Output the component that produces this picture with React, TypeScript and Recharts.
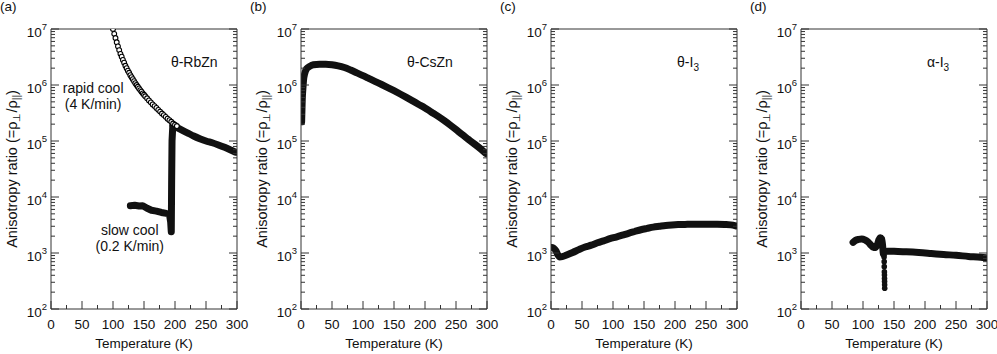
import React from 'react';
import { ComposedChart, Line, Scatter, XAxis, YAxis, ReferenceDot } from 'recharts';

const FONT = '"Liberation Sans", Arial, Helvetica, sans-serif';
const AX = '#333';
const INK = '#111';

// ---- axis ticks ----
const panelTags = ['(a)', '(b)', '(c)', '(d)'];
const temperatureTicks = [0, 25, 50, 75, 100, 125, 150, 175, 200, 225, 250, 275, 300];
const decadeValues = [1e2, 1e3, 1e4, 1e5, 1e6];
const minorMultipliers = [1, 2, 3, 4, 5, 6, 7, 8, 9];
const ratioTicks = [...decadeValues.flatMap((d) => minorMultipliers.map((m) => m * d)), 1e7];

// ---- data: [Temperature (K), anisotropy ratio] ----
const rbznRapidOpen = [
  [100, 1.0e7], [102, 8.2e6], [104, 6.9e6], [106, 5.8e6], [108, 4.9e6], [110, 4.2e6],
  [112, 3.6e6], [114, 3.2e6], [116, 2.8e6], [118, 2.5e6], [120, 2.2e6], [122, 2.0e6],
  [124, 1.8e6], [126, 1.65e6], [128, 1.5e6], [130, 1.38e6], [132, 1.27e6], [134, 1.17e6],
  [136, 1.08e6], [138, 1.0e6], [140, 9.3e5], [142, 8.7e5], [144, 8.1e5], [146, 7.6e5],
  [148, 7.1e5], [150, 6.7e5], [152, 6.3e5], [155, 5.8e5], [158, 5.3e5], [161, 4.9e5],
  [164, 4.5e5], [167, 4.2e5], [170, 3.9e5], [173, 3.6e5], [176, 3.35e5], [179, 3.1e5],
  [182, 2.9e5], [185, 2.7e5], [188, 2.5e5], [191, 2.35e5], [194, 2.2e5], [197, 2.05e5],
  [200, 1.95e5], [203, 1.85e5],
];
const rbznHighT = [
  [197, 1.9e5], [205, 1.7e5], [212, 1.55e5], [220, 1.4e5], [230, 1.23e5], [240, 1.1e5],
  [250, 1.0e5], [260, 9.3e4], [270, 8.5e4], [280, 7.7e4], [290, 6.9e4], [298, 6.3e4],
];
const rbznSlow = [
  [128, 7.0e3], [135, 7.1e3], [142, 6.9e3], [148, 7.0e3], [155, 6.3e3], [162, 5.8e3],
  [170, 5.6e3], [178, 5.3e3], [186, 5.1e3], [191, 5.0e3], [193, 3.6e3], [194, 2.4e3],
  [194.6, 2.0e4], [195.2, 1.0e5], [196.5, 1.9e5],
];
const csznData = [
  [1, 2.2e5], [1.5, 3.5e5], [2, 5.5e5], [3, 8.5e5], [4, 1.2e6], [6, 1.6e6], [9, 1.95e6],
  [14, 2.15e6], [20, 2.3e6], [30, 2.35e6], [40, 2.35e6], [50, 2.3e6], [60, 2.2e6],
  [70, 2.05e6], [80, 1.85e6], [90, 1.65e6], [100, 1.47e6], [110, 1.3e6], [120, 1.15e6],
  [130, 1.02e6], [140, 9.0e5], [150, 7.9e5], [160, 6.9e5], [170, 6.0e5], [180, 5.2e5],
  [190, 4.5e5], [200, 3.9e5], [210, 3.3e5], [220, 2.8e5], [230, 2.35e5], [240, 1.95e5],
  [250, 1.6e5], [260, 1.3e5], [270, 1.07e5], [280, 8.8e4], [290, 7.2e4], [298, 6.0e4],
];
const thetaI3Data = [
  [2, 1.25e3], [5, 1.2e3], [8, 1.1e3], [11, 9.3e2], [14, 8.5e2], [18, 8.6e2], [25, 9.2e2],
  [35, 1.02e3], [45, 1.15e3], [55, 1.28e3], [65, 1.38e3], [75, 1.52e3], [85, 1.65e3],
  [95, 1.8e3], [105, 1.93e3], [115, 2.08e3], [125, 2.25e3], [135, 2.42e3], [145, 2.6e3],
  [155, 2.75e3], [165, 2.9e3], [175, 3.0e3], [185, 3.1e3], [195, 3.17e3], [205, 3.22e3],
  [220, 3.25e3], [235, 3.27e3], [250, 3.27e3], [265, 3.25e3], [280, 3.22e3], [290, 3.18e3],
  [298, 3.05e3],
];
const alphaI3Data = [
  [84, 1.55e3], [88, 1.68e3], [93, 1.75e3], [98, 1.78e3], [103, 1.72e3], [108, 1.58e3],
  [113, 1.38e3], [117, 1.25e3], [120, 1.25e3], [123, 1.4e3], [126, 1.75e3], [128, 1.88e3],
  [130, 1.8e3], [131.5, 1.4e3], [133, 9.5e2], [135, 1.05e3], [140, 1.08e3], [150, 1.07e3],
  [170, 1.05e3], [190, 1.02e3], [210, 9.8e2], [230, 9.4e2], [250, 9.1e2], [270, 8.7e2],
  [290, 8.4e2], [298, 8.2e2],
];
const alphaI3Dip = [
  [134, 8.5e2], [134.2, 7.0e2], [134.3, 5.7e2], [134.5, 4.6e2], [134.6, 4.05e2],
  [134.7, 3.5e2], [134.8, 3.1e2], [134.9, 2.7e2], [135, 2.35e2],
];

type Pt = { T: number; v: number };
const toPts = (arr: number[][]): Pt[] => arr.map(([T, v]) => ({ T, v }));

const isDecade = (v: number) => Math.abs(Math.log10(v) - Math.round(Math.log10(v))) < 1e-9;

// ---- tick renderers (ticks drawn inward) ----
const LeftTick = (p: any) => {
  const { x, y, payload } = p;
  const v = payload.value;
  const major = isDecade(v);
  return (
    <g>
      <line x1={x} x2={x + (major ? 8 : 4)} y1={y} y2={y} stroke={AX} strokeWidth={1} />
      {major && (
        <text x={x - 4} y={y + 8} textAnchor="end" fontFamily={FONT} fontSize={13.5} fill={INK}>
          10<tspan fontSize={9.5} dy={-7}>{Math.round(Math.log10(v))}</tspan>
        </text>
      )}
    </g>
  );
};
const RightTick = (p: any) => {
  const { x, y, payload } = p;
  const major = isDecade(payload.value);
  return <line x1={x - (major ? 8 : 4)} x2={x} y1={y} y2={y} stroke={AX} strokeWidth={1} />;
};
const BottomTick = (p: any) => {
  const { x, y, payload } = p;
  const major = payload.value % 50 === 0;
  return (
    <g>
      <line x1={x} x2={x} y1={y} y2={y - (major ? 8 : 4)} stroke={AX} strokeWidth={1} />
      {major && (
        <text x={x} y={y + 20} textAnchor="middle" fontFamily={FONT} fontSize={13.5} fill={INK}>
          {payload.value}
        </text>
      )}
    </g>
  );
};
const TopTick = (p: any) => {
  const { x, y, payload } = p;
  const major = payload.value % 50 === 0;
  return <line x1={x} x2={x} y1={y} y2={y + (major ? 8 : 4)} stroke={AX} strokeWidth={1} />;
};

const xTitle = (p: any) => {
  const vb = p.viewBox;
  return (
    <text x={vb.x + vb.width / 2} y={vb.y + 39} textAnchor="middle" fontFamily={FONT} fontSize={13.5} fill={INK}>
      Temperature (K)
    </text>
  );
};
const yTitle = (p: any) => {
  const vb = p.viewBox;
  const cx = 17;
  const cy = vb.y + vb.height / 2;
  return (
    <text x={cx} y={cy} transform={`rotate(-90 ${cx} ${cy})`} textAnchor="middle" fontFamily={FONT} fontSize={14.5} fill={INK}>
      <tspan>Anisotropy ratio (=ρ</tspan>
      <tspan fontSize={10} dy={3}>⊥</tspan>
      <tspan dy={-3}>/ρ</tspan>
      <tspan fontSize={10} dy={3}>||</tspan>
      <tspan dy={-3}>)</tspan>
    </text>
  );
};

const noteLabel = (lines: string[], gap = 16) => (p: any) => {
  const { x, y } = p.viewBox;
  return (
    <text x={x} y={y} textAnchor="middle" fontFamily={FONT} fontSize={14} fill={INK}>
      {lines.map((l, i) => (
        <tspan key={i} x={x} dy={i === 0 ? 5 : gap}>{l}</tspan>
      ))}
    </text>
  );
};
const compoundLabel = (main: string, sub?: string) => (p: any) => {
  const { x, y } = p.viewBox;
  return (
    <text x={x} y={y + 5} textAnchor="middle" fontFamily={FONT} fontSize={14} fill={INK}>
      {main}
      {sub && <tspan fontSize={10} dy={4}>{sub}</tspan>}
    </text>
  );
};

const thickLine = (key: string, data: number[][], type: any = 'monotone') => (
  <Line
    key={key}
    xAxisId="b"
    yAxisId="l"
    data={toPts(data)}
    dataKey="v"
    type={type}
    stroke={INK}
    strokeWidth={7}
    strokeLinecap="round"
    strokeLinejoin="round"
    dot={false}
    activeDot={false}
    isAnimationActive={false}
  />
);

const note = (key: string, T: number, v: number, label: any) => (
  <ReferenceDot key={key} xAxisId="b" yAxisId="l" x={T} y={v} r={0} fill="none" stroke="none" ifOverflow="visible" label={label} />
);

function Panel({ tag, left, width, children }: { tag: string; left: number; width: number; children: React.ReactNode }) {
  return (
    <div style={{ position: 'absolute', left, top: 0, width, height: 354 }}>
      <div style={{ position: 'absolute', left: 0, top: 0, fontFamily: FONT, fontSize: 13.5, lineHeight: '14px', color: INK }}>{tag}</div>
      <ComposedChart width={width} height={354} margin={{ top: 28, right: width - 238, left: 11, bottom: 15 }}>
        <XAxis
          xAxisId="b" dataKey="T" type="number" domain={[0, 300]} allowDataOverflow
          ticks={temperatureTicks} interval={0} tickSize={0} tickMargin={0} tickLine={false}
          tick={BottomTick} height={30} stroke={AX} label={xTitle}
        />
        <XAxis
          xAxisId="t" orientation="top" type="number" domain={[0, 300]} allowDataOverflow
          ticks={temperatureTicks} interval={0} tickSize={0} tickMargin={0} tickLine={false}
          tick={TopTick} height={1} stroke={AX}
        />
        <YAxis
          yAxisId="l" dataKey="v" type="number" scale="log" domain={[100, 1e7]} allowDataOverflow
          ticks={ratioTicks} interval={0} tickSize={0} tickMargin={0} tickLine={false}
          tick={LeftTick} width={40} stroke={AX} label={yTitle}
        />
        <YAxis
          yAxisId="r" orientation="right" type="number" scale="log" domain={[100, 1e7]} allowDataOverflow
          ticks={ratioTicks} interval={0} tickSize={0} tickMargin={0} tickLine={false}
          tick={RightTick} width={1} stroke={AX}
        />
        {children}
      </ComposedChart>
    </div>
  );
}

const openCircle = (p: any) => (
  <circle cx={p.cx} cy={p.cy} r={2.4} fill="#fff" stroke="#000" strokeWidth={1.1} />
);
const filledDot = (p: any) => <circle cx={p.cx} cy={p.cy} r={2.8} fill={INK} />;

export default function App() {
  return (
    <div style={{ position: 'absolute', left: 0, top: 0, width: 997, height: 354, background: '#fff', overflow: 'hidden' }}>
      <Panel tag={panelTags[0]} left={0} width={250}>
        {thickLine('slow', rbznSlow, 'linear')}
        {thickLine('high', rbznHighT)}
        <Scatter xAxisId="b" yAxisId="l" data={toPts(rbznRapidOpen)} shape={openCircle} isAnimationActive={false} />
        {note('n1', 231, 2.6e6, compoundLabel('θ-RbZn'))}
        {note('n2', 68, 8.9e5, noteLabel(['rapid cool', '(4 K/min)']))}
        {note('n3', 127, 2.6e3, noteLabel(['slow cool', '(0.2 K/min)']))}
      </Panel>
      <Panel tag={panelTags[1]} left={250} width={250}>
        {thickLine('cszn', csznData)}
        {note('n4', 208, 2.6e6, compoundLabel('θ-CsZn'))}
      </Panel>
      <Panel tag={panelTags[2]} left={500} width={250}>
        {thickLine('ti3', thetaI3Data)}
        {note('n5', 221, 2.6e6, compoundLabel('θ-I', '3'))}
      </Panel>
      <Panel tag={panelTags[3]} left={750} width={247}>
        {thickLine('ai3', alphaI3Data)}
        <Scatter xAxisId="b" yAxisId="l" data={toPts(alphaI3Dip)} shape={filledDot} isAnimationActive={false} />
        {note('n6', 221, 2.6e6, compoundLabel('α-I', '3'))}
      </Panel>
    </div>
  );
}
